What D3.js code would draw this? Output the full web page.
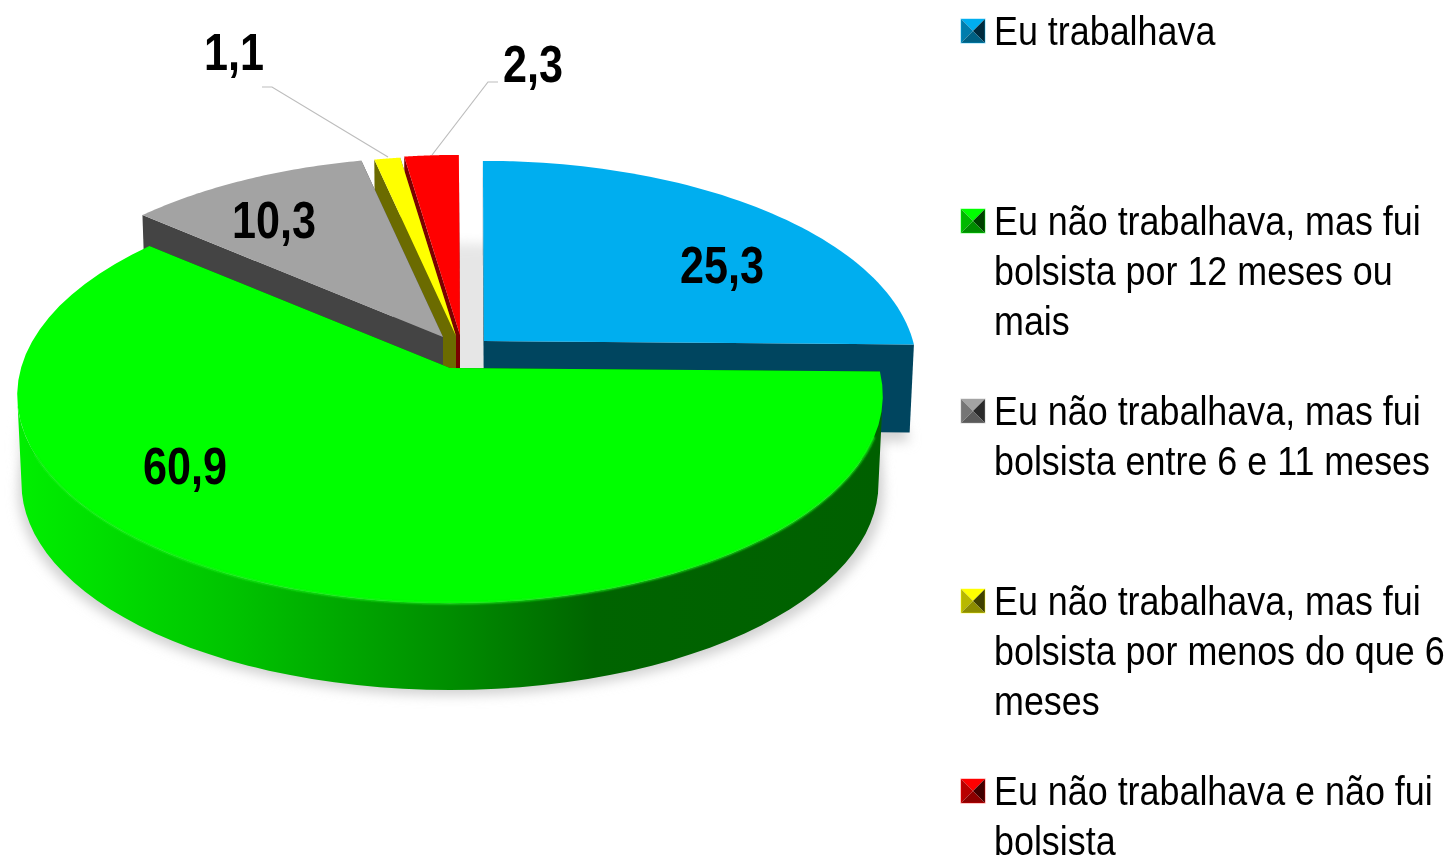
<!DOCTYPE html>
<html><head><meta charset="utf-8">
<script src="https://cdnjs.cloudflare.com/ajax/libs/d3/7.8.5/d3.min.js"></script>
<style>html,body{margin:0;padding:0;background:#fff}svg{display:block}text{font-family:"Liberation Sans",Arial,sans-serif}</style>
</head><body><svg id="c" width="1450" height="856"></svg>
<script>
const categories = ["Eu trabalhava","Eu não trabalhava, mas fui bolsista por 12 meses ou mais","Eu não trabalhava, mas fui bolsista entre 6 e 11 meses","Eu não trabalhava, mas fui bolsista por menos do que 6 meses","Eu não trabalhava e não fui bolsista"];
const values = [25.3,60.9,10.3,1.1,2.3];
const legendLines = [["Eu trabalhava"],["Eu não trabalhava, mas fui","bolsista por 12 meses ou","mais"],["Eu não trabalhava, mas fui","bolsista entre 6 e 11 meses"],["Eu não trabalhava, mas fui","bolsista por menos do que 6","meses"],["Eu não trabalhava e não fui","bolsista"]];
const colors = ["#00aeef","#00ff00","#a3a3a3","#ffff00","#ff0000"];
const wallColors = ["#00455f","#006000","#444444","#6b6b00","#7a0000"];

// layout
const RX=429, RA=204, P=0.1326, DEPTH=88, BOTTOM=0.99, BOTTOMY=0.995, ROT=-0.003;
const apex=[[484,341],[450,368],[443,337],[456,336],[460,335]];
const labelPos=[[680,283],[143,484],[232,238],[204,70],[503,82]];
const leaders=[null,null,null,[[262,87],[272,87],[388,157]],[[498,82],[488,82],[432,155]]];
const SIL=Math.acos(-P); // angle at which the rim turns from front to back
const svg=d3.select("#c");
const defs=svg.append("defs");
defs.append("filter").attr("id","sh").attr("x","-10%").attr("y","-10%").attr("width","120%").attr("height","120%")
  .append("feGaussianBlur").attr("stdDeviation",6);
defs.append("filter").attr("id","soft").attr("x","-5%").attr("y","-5%").attr("width","110%").attr("height","110%")
  .append("feGaussianBlur").attr("stdDeviation",0.45);
defs.append("filter").attr("id","soft2").attr("x","-5%").attr("y","-5%").attr("width","110%").attr("height","110%").append("feGaussianBlur").attr("stdDeviation",1.2);
defs.append("clipPath").attr("id","lowClip").append("rect").attr("x",0).attr("y",410).attr("width",1450).attr("height",446);
const g=defs.append("linearGradient").attr("id","gw").attr("gradientUnits","userSpaceOnUse")
  .attr("x1",15).attr("x2",880).attr("y1",0).attr("y2",0);
[[0,"#00f000"],[0.26,"#00c200"],[0.5,"#008e00"],[0.67,"#006400"],[1,"#006000"]]
  .forEach(s=>g.append("stop").attr("offset",s[0]).attr("stop-color",s[1]));

function proj(i,r,a,bottom){
  const X=r*Math.sin(a),Y=r*Math.cos(a),s=1+P*Y;
  return [apex[i][0]+(bottom?BOTTOM:1)*RX*X/s, apex[i][1]+(bottom?DEPTH:0)-(bottom?BOTTOMY:1)*RA*Y/s];
}
const arcs=d3.pie().sort(null).startAngle(ROT).endAngle(2*Math.PI+ROT)(values);
const line=d3.line();
function arcPts(i,a0,a1,bottom){return d3.range(0,61).map(t=>proj(i,1,a0+(a1-a0)*t/60,bottom));}
function topFace(i){const d=arcs[i];return line([proj(i,0,0),...arcPts(i,d.startAngle,d.endAngle)])+"Z";}
function bottomFace(i){const d=arcs[i];return line([proj(i,0,0,true),...arcPts(i,d.startAngle,d.endAngle,true)])+"Z";}
function radial(i,a){return line([proj(i,0,0),proj(i,1,a),proj(i,1,a,true),proj(i,0,0,true)])+"Z";}
function outer(i){
  // only the part of the rim that faces the viewer, so the band never folds over itself
  const d=arcs[i],a0=Math.max(d.startAngle,SIL),a1=Math.min(d.endAngle,2*Math.PI-SIL);
  if(a1<=a0) return null;
  return line([...arcPts(i,a0,a1),...arcPts(i,a0,a1,true).reverse()])+"Z";
}
function disc(cx,cy,ky){
  return line(d3.range(0,121).map(t=>{const a=t/120*2*Math.PI,X=Math.sin(a),Y=Math.cos(a),s=1+P*Y;return [cx+RX*X/s,cy-ky*RA*Y/s];}))+"Z";
}

// shadows: a pale one behind the gap between the slices, a stronger one under the rim
svg.append("path").attr("d",disc(451,420,0.98)).attr("fill","#e6e6e6").attr("filter","url(#sh)");
const sh=svg.append("g").attr("clip-path","url(#lowClip)").append("g").attr("filter","url(#sh)").attr("fill","#d2d2d2").attr("transform","translate(0,9)");
sh.append("path").attr("d",disc(451,368+DEPTH,0.98));
sh.append("path").attr("d",bottomFace(0));

// painter order: back slices first
[4,3,2,0,1].forEach(i=>{
  const d=arcs[i],pg=svg.append("g").attr("class","slice");
  pg.append("path").attr("d",radial(i,d.endAngle)).attr("fill",wallColors[i]);
  pg.append("path").attr("d",radial(i,d.startAngle)).attr("fill",wallColors[i]);
  const o=outer(i);
  if(o) pg.append("path").attr("d",o).attr("fill",i===1?"url(#gw)":wallColors[i]);
  pg.append("path").attr("d",topFace(i)).attr("fill",colors[i]);
  if(i===1){
    pg.append("path").attr("d",line(arcPts(1,1.9,4.3))).attr("fill","none").attr("stroke","#18f018").attr("stroke-width",2).attr("filter","url(#soft2)");
  }
});

// leader lines
svg.append("g").selectAll("path").data(leaders.filter(Boolean)).join("path")
  .attr("d",line).attr("fill","none").attr("stroke","#bdbdbd").attr("stroke-width",1.2);

// data labels
svg.append("g").attr("filter","url(#soft)").selectAll("text").data(values).join("text")
  .attr("transform",(v,i)=>`translate(${labelPos[i][0]},${labelPos[i][1]}) scale(0.83,1)`)
  .attr("font-size",52).attr("font-weight","bold").attr("fill","#000")
  .text(v=>String(v).replace(".",","));

// legend
const legendY=d3.scalePoint().domain(d3.range(categories.length)).range([31,791]);
const lg=svg.append("g").attr("filter","url(#soft)").selectAll("g").data(categories).join("g")
  .attr("transform",(c,i)=>`translate(973,${legendY(i)})`);
const H=12;
lg.each(function(c,i){
  const s=d3.select(this),b=d3.rgb(colors[i]);
  const shade=f=>d3.rgb(b.r*f,b.g*f,b.b*f).formatHex();
  const faces=[[[-H,-H],[H,-H],[0,0],shade(1)],[[-H,-H],[-H,H],[0,0],shade(0.72)],[[H,-H],[H,H],[0,0],shade(0.25)],[[-H,H],[H,H],[0,0],shade(0.55)]];
  faces.forEach(f=>s.append("path").attr("d",line(f.slice(0,3))+"Z").attr("fill",f[3]));
  s.append("rect").attr("x",-H).attr("y",-H).attr("width",2*H).attr("height",2*H).attr("fill","none").attr("stroke",colors[i]).attr("stroke-opacity",0.45).attr("stroke-width",1);
  legendLines[i].forEach((t,j)=>{
    s.append("text").attr("transform",`translate(21,${13.5+j*50}) scale(0.875,1)`)
      .attr("font-size",41).attr("fill","#000").text(t);
  });
});
</script></body></html>
